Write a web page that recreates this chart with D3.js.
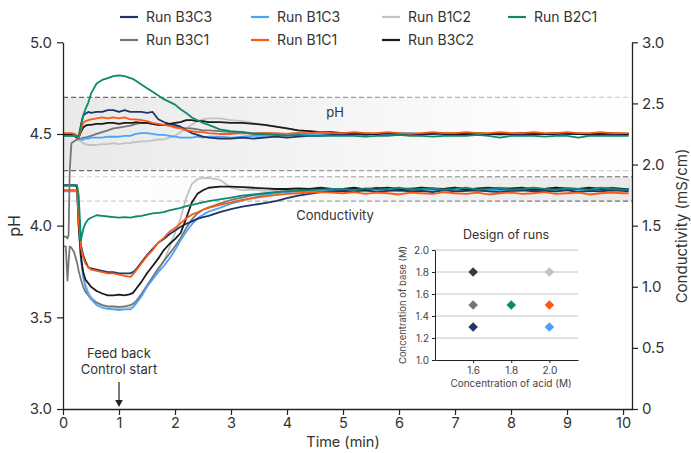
<!DOCTYPE html>
<html><head><meta charset="utf-8">
<script src="https://cdn.jsdelivr.net/npm/d3@7"></script>
<style>body{margin:0;background:#fff;} svg{display:block;font-family:Inter,"Noto Sans",sans-serif;}</style>
</head><body><svg id="c" width="691" height="453"></svg>
<script>
// ---------- DATA ----------
const T = [0,0.05,0.08,0.1,0.12,0.15,0.2,0.25,0.28,0.32,0.36,0.4,0.45,0.5,
  0.6,0.7,0.8,0.9,1.0,1.1,1.2,1.25,1.3,
  1.4,1.5,1.6,1.7,1.8,1.9,2.0,2.1,2.2,2.3,2.4,2.5,2.6,
  2.8,3.0,3.2,3.4,3.6,3.8,4.0,4.2,4.4,4.6,4.8,
  5.0,5.2,5.4,5.6,5.8,6.0,6.2,6.4,6.6,6.8,7.0,7.2,7.4,7.6,7.8,8.0,8.2,8.4,8.6,8.8,9.0,9.2,9.4,9.6,9.8,10.0,10.1];

const seriesNames  = ["Run B3C3","Run B1C3","Run B1C2","Run B2C1","Run B3C1","Run B1C1","Run B3C2"];
const seriesColors = ["#1f3468","#4aa3ff","#c2c2c2","#0b8a6c","#767676","#fb5a14","#1b1b1b"];

// pH (left axis)
const pH_B3C3 = [4.50,4.50,4.50,4.50,4.50,4.50,4.49,4.48,4.48,4.55,4.60,4.61,4.62,4.615,
  4.62,4.62,4.63,4.63,4.62,4.63,4.62,4.62,4.62,
  4.62,4.615,4.62,4.58,4.565,4.555,4.55,4.54,4.52,4.505,4.495,4.485,4.48,
  4.475,4.475,4.48,4.475,4.48,4.485,4.48,4.485,4.49,4.49,4.495,
  4.495,4.50,4.495,4.50,4.505,4.50,4.495,4.50,4.50,4.505,4.50,4.495,4.50,4.50,4.505,4.50,4.495,4.50,4.50,4.505,4.50,4.50,4.495,4.50,4.50,4.50,4.50];
const pH_B1C3 = [4.49,4.49,4.49,4.49,4.49,4.49,4.49,4.48,4.475,4.47,4.47,4.475,4.475,4.48,
  4.48,4.48,4.485,4.485,4.485,4.49,4.49,4.495,4.50,
  4.505,4.505,4.50,4.495,4.495,4.49,4.485,4.48,4.48,4.48,4.485,4.48,4.485,
  4.485,4.48,4.485,4.49,4.49,4.49,4.495,4.495,4.50,4.50,4.495,
  4.50,4.50,4.505,4.50,4.495,4.50,4.505,4.50,4.50,4.495,4.50,4.505,4.50,4.50,4.495,4.50,4.505,4.50,4.50,4.495,4.50,4.505,4.50,4.50,4.495,4.50,4.50];
const pH_B1C2 = [4.50,4.50,4.50,4.50,4.50,4.50,4.49,4.48,4.47,4.46,4.45,4.445,4.44,4.44,
  4.44,4.445,4.445,4.45,4.445,4.45,4.45,4.455,4.455,
  4.46,4.46,4.465,4.47,4.47,4.48,4.49,4.51,4.53,4.55,4.57,4.58,4.585,
  4.585,4.575,4.57,4.56,4.55,4.54,4.53,4.52,4.515,4.51,4.505,
  4.50,4.505,4.50,4.50,4.495,4.50,4.505,4.50,4.50,4.50,4.495,4.50,4.505,4.50,4.50,4.50,4.495,4.50,4.50,4.505,4.50,4.50,4.495,4.50,4.50,4.50,4.50];
const pH_B2C1 = [4.49,4.49,4.49,4.49,4.49,4.49,4.49,4.485,4.49,4.54,4.60,4.635,4.67,4.72,
  4.775,4.795,4.805,4.815,4.82,4.815,4.805,4.80,4.79,
  4.77,4.75,4.73,4.71,4.69,4.675,4.66,4.635,4.615,4.59,4.575,4.56,4.55,
  4.525,4.515,4.51,4.50,4.50,4.495,4.49,4.495,4.49,4.49,4.49,
  4.49,4.49,4.485,4.49,4.49,4.495,4.49,4.49,4.485,4.49,4.49,4.49,4.495,4.49,4.48,4.49,4.49,4.49,4.485,4.49,4.49,4.48,4.49,4.49,4.49,4.49,4.49];
const pH_B3C1 = [3.94,3.94,3.93,3.95,4.30,4.45,4.46,4.47,4.47,4.475,4.48,4.48,4.485,4.49,
  4.50,4.51,4.52,4.53,4.535,4.54,4.545,4.55,4.555,
  4.56,4.56,4.555,4.55,4.55,4.545,4.54,4.535,4.53,4.53,4.525,4.52,4.52,
  4.515,4.51,4.51,4.505,4.505,4.50,4.50,4.505,4.50,4.50,4.50,
  4.50,4.505,4.50,4.50,4.50,4.505,4.50,4.495,4.50,4.50,4.505,4.50,4.50,4.50,4.505,4.50,4.50,4.495,4.50,4.505,4.50,4.50,4.50,4.505,4.50,4.50,4.50];
const pH_B1C1 = [4.505,4.505,4.505,4.505,4.505,4.505,4.50,4.49,4.48,4.52,4.56,4.57,4.575,4.58,
  4.585,4.59,4.585,4.59,4.585,4.59,4.58,4.58,4.58,
  4.575,4.57,4.56,4.555,4.55,4.545,4.535,4.53,4.52,4.515,4.51,4.51,4.505,
  4.50,4.50,4.505,4.50,4.505,4.505,4.50,4.505,4.505,4.51,4.505,
  4.505,4.51,4.505,4.505,4.51,4.505,4.50,4.505,4.51,4.505,4.505,4.51,4.505,4.505,4.51,4.505,4.505,4.51,4.505,4.505,4.51,4.505,4.505,4.51,4.505,4.505,4.505];
const pH_B3C2 = [4.50,4.50,4.50,4.50,4.50,4.50,4.50,4.49,4.48,4.51,4.535,4.545,4.55,4.55,
  4.555,4.555,4.56,4.56,4.555,4.56,4.56,4.56,4.565,
  4.56,4.56,4.555,4.55,4.55,4.555,4.56,4.565,4.575,4.575,4.57,4.57,4.565,
  4.565,4.56,4.56,4.555,4.55,4.54,4.53,4.52,4.515,4.51,4.51,
  4.505,4.505,4.50,4.50,4.505,4.50,4.50,4.50,4.505,4.50,4.50,4.50,4.505,4.50,4.50,4.50,4.505,4.50,4.50,4.50,4.505,4.50,4.50,4.50,4.505,4.50,4.50];

// Conductivity, mS/cm (right axis)
const cond_B3C3 = [1.83,1.83,1.83,1.83,1.83,1.83,1.83,1.82,1.60,1.34,1.26,1.21,1.16,1.15,
  1.14,1.13,1.12,1.12,1.11,1.11,1.11,1.12,1.14,
  1.20,1.26,1.31,1.36,1.39,1.43,1.46,1.49,1.515,1.535,1.555,1.57,1.58,
  1.61,1.635,1.655,1.67,1.685,1.70,1.725,1.745,1.76,1.775,1.78,
  1.785,1.78,1.79,1.775,1.785,1.79,1.78,1.785,1.775,1.79,1.78,1.785,1.79,1.78,1.775,1.785,1.79,1.78,1.785,1.78,1.79,1.775,1.785,1.78,1.79,1.785,1.78];
const cond_B1C3 = [1.78,1.78,1.78,1.78,1.78,1.78,1.78,1.78,1.50,1.22,1.08,1.00,0.94,0.90,
  0.85,0.83,0.82,0.815,0.81,0.815,0.815,0.83,0.86,
  0.92,1.00,1.06,1.12,1.17,1.23,1.30,1.38,1.45,1.51,1.56,1.59,1.615,
  1.645,1.68,1.705,1.73,1.75,1.765,1.775,1.78,1.785,1.78,1.79,
  1.785,1.79,1.78,1.785,1.795,1.78,1.79,1.785,1.78,1.79,1.785,1.795,1.78,1.785,1.79,1.78,1.785,1.795,1.785,1.78,1.79,1.785,1.78,1.79,1.785,1.79,1.785];
const cond_B1C2 = [1.79,1.79,1.79,1.79,1.79,1.79,1.79,1.79,1.52,1.24,1.10,1.02,0.96,0.92,
  0.87,0.85,0.835,0.83,0.825,0.83,0.83,0.84,0.87,
  0.93,1.00,1.07,1.13,1.21,1.32,1.44,1.56,1.73,1.84,1.88,1.89,1.89,
  1.875,1.81,1.79,1.795,1.785,1.79,1.795,1.785,1.79,1.795,1.79,
  1.785,1.795,1.79,1.80,1.785,1.79,1.795,1.785,1.79,1.80,1.79,1.785,1.795,1.79,1.785,1.80,1.79,1.785,1.795,1.79,1.80,1.785,1.79,1.795,1.785,1.79,1.79];
const cond_B2C1 = [1.83,1.83,1.83,1.83,1.83,1.83,1.83,1.83,1.75,1.38,1.47,1.52,1.55,1.565,
  1.585,1.58,1.575,1.57,1.565,1.57,1.565,1.57,1.575,
  1.58,1.59,1.60,1.605,1.61,1.625,1.635,1.645,1.66,1.67,1.68,1.69,1.70,
  1.715,1.73,1.745,1.755,1.765,1.775,1.78,1.785,1.79,1.795,1.80,
  1.80,1.79,1.805,1.795,1.80,1.81,1.795,1.80,1.805,1.795,1.80,1.81,1.795,1.80,1.805,1.795,1.80,1.81,1.80,1.795,1.805,1.80,1.795,1.81,1.80,1.795,1.80];
const cond_B3C1 = [1.33,1.33,1.05,1.20,1.33,1.32,1.28,1.20,1.13,1.06,1.00,0.96,0.93,0.90,
  0.87,0.85,0.84,0.84,0.835,0.84,0.85,0.86,0.88,
  0.94,1.01,1.08,1.15,1.21,1.27,1.33,1.40,1.48,1.55,1.60,1.63,1.65,
  1.68,1.71,1.73,1.75,1.76,1.775,1.785,1.79,1.795,1.80,1.80,
  1.795,1.805,1.80,1.81,1.795,1.80,1.805,1.81,1.795,1.80,1.81,1.80,1.795,1.805,1.81,1.80,1.795,1.805,1.80,1.81,1.795,1.80,1.805,1.80,1.81,1.80,1.80];
const cond_B1C1 = [1.79,1.79,1.79,1.79,1.79,1.79,1.79,1.79,1.55,1.32,1.24,1.19,1.16,1.14,
  1.13,1.12,1.11,1.11,1.10,1.09,1.08,1.10,1.13,
  1.19,1.25,1.30,1.36,1.40,1.45,1.48,1.52,1.56,1.59,1.61,1.63,1.645,
  1.67,1.69,1.71,1.725,1.74,1.75,1.76,1.765,1.77,1.775,1.77,
  1.765,1.775,1.76,1.77,1.765,1.755,1.77,1.765,1.76,1.775,1.765,1.76,1.77,1.755,1.765,1.77,1.76,1.765,1.775,1.76,1.765,1.77,1.755,1.765,1.77,1.765,1.765];
const cond_B3C2 = [1.83,1.83,1.83,1.83,1.83,1.83,1.83,1.83,1.50,1.25,1.12,1.06,1.03,1.00,
  0.965,0.945,0.93,0.93,0.935,0.93,0.94,0.95,0.98,
  1.04,1.11,1.17,1.23,1.30,1.35,1.39,1.44,1.56,1.69,1.76,1.79,1.81,
  1.82,1.82,1.815,1.81,1.805,1.80,1.80,1.805,1.80,1.81,1.80,
  1.80,1.81,1.795,1.805,1.81,1.80,1.795,1.81,1.805,1.80,1.81,1.795,1.805,1.81,1.80,1.805,1.81,1.795,1.80,1.81,1.805,1.80,1.81,1.80,1.805,1.80,1.80];

const pHSeries   = [pH_B3C3, pH_B1C3, pH_B1C2, pH_B2C1, pH_B3C1, pH_B1C1, pH_B3C2];
const condSeries = [cond_B3C3, cond_B1C3, cond_B1C2, cond_B2C1, cond_B3C1, cond_B1C1, cond_B3C2];

const phBand = [4.3, 4.7];
const condBand = [1.7, 1.9];

// Design of runs (inset)
const designAcid = [1.6, 2.0, 2.0, 1.8, 1.6, 2.0, 1.6];
const designBase = [1.3, 1.3, 1.8, 1.5, 1.5, 1.5, 1.8];
const designXTicks = [1.6, 1.8, 2.0];
const designYTicks = [1.0, 1.2, 1.4, 1.6, 1.8, 2.0];

const xTicks = [0,1,2,3,4,5,6,7,8,9,10];
const phTicks = [3.0,3.5,4.0,4.5,5.0];
const condTicks = [0,0.5,1.0,1.5,2.0,2.5,3.0];

// ---------- CHART ----------
const svg = d3.select("#c");
const X0 = 63, X1 = 632, YT = 42.3, YB = 409;
const x  = d3.scaleLinear().domain([0, 10.16]).range([X0, X1]);
const yL = d3.scaleLinear().domain([3, 5]).range([YB, YT]);
const yR = d3.scaleLinear().domain([0, 3]).range([YB, YT]);

const defs = svg.append("defs");
function grad(id, stops){
  const g = defs.append("linearGradient").attr("id", id).attr("gradientUnits","userSpaceOnUse")
    .attr("x1", X0).attr("x2", X1).attr("y1", 0).attr("y2", 0);
  stops.forEach(s => g.append("stop").attr("offset", s[0]).attr("stop-color", s[1]));
}
grad("phFill",   [[0,"#e9e9e9"],[0.45,"#f4f4f4"],[0.8,"#fdfdfd"],[1,"#ffffff"]]);
grad("condFill", [[0,"#ffffff"],[0.3,"#fbfbfb"],[0.7,"#efefef"],[1,"#e8e8e8"]]);
grad("phLine",   [[0,"#666666"],[1,"#d6d6d6"]]);
grad("condLine", [[0,"#dadada"],[1,"#666666"]]);
defs.append("clipPath").attr("id","plotClip").append("rect")
  .attr("x", X0).attr("y", YT).attr("width", X1 - X0).attr("height", YB - YT);

// bands
svg.append("rect").attr("x", X0).attr("width", X1 - X0)
  .attr("y", yL(phBand[1])).attr("height", yL(phBand[0]) - yL(phBand[1]))
  .attr("fill", "url(#phFill)");
svg.append("rect").attr("x", X0).attr("width", X1 - X0)
  .attr("y", yR(condBand[1])).attr("height", yR(condBand[0]) - yR(condBand[1]))
  .attr("fill", "url(#condFill)");
phBand.forEach(v => svg.append("line").attr("x1", X0).attr("x2", X1)
  .attr("y1", yL(v)).attr("y2", yL(v)).attr("stroke","url(#phLine)")
  .attr("stroke-width",1.2).attr("stroke-dasharray","5,3"));
condBand.forEach(v => svg.append("line").attr("x1", X0).attr("x2", X1)
  .attr("y1", yR(v)).attr("y2", yR(v)).attr("stroke","url(#condLine)")
  .attr("stroke-width",1.2).attr("stroke-dasharray","5,3"));

// band labels
svg.append("text").attr("x", 335).attr("y", 117).attr("text-anchor","middle")
  .attr("font-size", 13).attr("fill","#333").text("pH");
svg.append("text").attr("x", 335).attr("y", 220).attr("text-anchor","middle")
  .attr("font-size", 13).attr("fill","#333").text("Conductivity");

// lines
const plot = svg.append("g").attr("clip-path","url(#plotClip)");
const drawOrder = [2, 4, 1, 0, 6, 5, 3];
const lineL = d3.line().x(d => x(d[0])).y(d => yL(d[1]));
const lineR = d3.line().x(d => x(d[0])).y(d => yR(d[1]));
drawOrder.forEach(i => {
  const n = Math.min(T.length, condSeries[i].length);
  plot.append("path").datum(T.slice(0, n).map((t, j) => [t, condSeries[i][j]]))
    .attr("d", lineR).attr("fill","none").attr("stroke", seriesColors[i])
    .attr("stroke-width", 1.8).attr("stroke-linejoin","round");
});
drawOrder.forEach(i => {
  const n = Math.min(T.length, pHSeries[i].length);
  plot.append("path").datum(T.slice(0, n).map((t, j) => [t, pHSeries[i][j]]))
    .attr("d", lineL).attr("fill","none").attr("stroke", seriesColors[i])
    .attr("stroke-width", 1.8).attr("stroke-linejoin","round");
});

// axes
function styleAxis(g, fs){
  g.select(".domain").attr("stroke","#222").attr("stroke-width",1.3);
  g.selectAll(".tick line").attr("stroke","#222").attr("stroke-width",1.2);
  g.selectAll(".tick text").attr("fill","#333").attr("font-size", fs).attr("font-family","Inter,'Noto Sans',sans-serif");
}
const gx = svg.append("g").attr("transform",`translate(0,${YB})`)
  .call(d3.axisBottom(x).tickValues(xTicks).tickFormat(d3.format("d")).tickSize(6).tickSizeOuter(0).tickPadding(3));
styleAxis(gx, 14.5);
const gl = svg.append("g").attr("transform",`translate(${X0},0)`)
  .call(d3.axisLeft(yL).tickValues(phTicks).tickFormat(d3.format(".1f")).tickSize(6).tickSizeOuter(0).tickPadding(5));
styleAxis(gl, 15);
const gr = svg.append("g").attr("transform",`translate(${X1},0)`)
  .call(d3.axisRight(yR).tickValues(condTicks).tickFormat(d => d === 0 ? "0" : d3.format(".1f")(d)).tickSize(6).tickSizeOuter(0).tickPadding(4));
styleAxis(gr, 15);

svg.append("text").attr("x", 343).attr("y", 447).attr("text-anchor","middle")
  .attr("font-size", 14.5).attr("fill","#333").text("Time (min)");
svg.append("text").attr("transform","translate(20,226) rotate(-90)").attr("text-anchor","middle")
  .attr("font-size", 16).attr("fill","#333").text("pH");
svg.append("text").attr("transform","translate(687,226) rotate(-90)").attr("text-anchor","middle")
  .attr("font-size", 15).attr("fill","#333").text("Conductivity (mS/cm)");

// legend
const legPos = [[120,17],[251,17],[382,17],[508,17],[120,40],[251,40],[382,40]];
seriesNames.forEach((nm, i) => {
  const [lx, ly] = legPos[i];
  svg.append("line").attr("x1", lx).attr("x2", lx + 18).attr("y1", ly).attr("y2", ly)
    .attr("stroke", seriesColors[i]).attr("stroke-width", 2.2);
  svg.append("text").attr("x", lx + 26).attr("y", ly + 5).attr("font-size", 14)
    .attr("fill","#333").text(nm);
});

// feedback annotation
svg.append("text").attr("x", x(1)).attr("y", 358).attr("text-anchor","middle")
  .attr("font-size", 13).attr("fill","#333").text("Feed back");
svg.append("text").attr("x", x(1)).attr("y", 374).attr("text-anchor","middle")
  .attr("font-size", 13).attr("fill","#333").text("Control start");
svg.append("line").attr("x1", x(1)).attr("x2", x(1)).attr("y1", 382).attr("y2", 401)
  .attr("stroke","#222").attr("stroke-width",1.2);
svg.append("path").attr("d", `M${x(1)-3.8},400 L${x(1)+3.8},400 L${x(1)},407 Z`).attr("fill","#222");

// ---------- INSET ----------
const ix = d3.scaleLinear().domain([1.4, 2.15]).range([435, 578]);
const iy = d3.scaleLinear().domain([1.0, 2.0]).range([360, 250]);
const inset = svg.append("g");
designYTicks.slice(1).forEach(v => inset.append("line").attr("x1", 435).attr("x2", 578)
  .attr("y1", iy(v)).attr("y2", iy(v)).attr("stroke","#c4c4c4").attr("stroke-width",1));
const iyAxis = inset.append("g").attr("transform","translate(435,0)")
  .call(d3.axisLeft(iy).tickValues(designYTicks).tickFormat(d3.format(".1f")).tickSize(3).tickSizeOuter(0).tickPadding(3));
const ixAxis = inset.append("g").attr("transform","translate(0,360)")
  .call(d3.axisBottom(ix).tickValues(designXTicks).tickFormat(d3.format(".1f")).tickSize(3).tickSizeOuter(0).tickPadding(4));
[iyAxis, ixAxis].forEach(g => {
  g.select(".domain").attr("stroke","#222").attr("stroke-width",1);
  g.selectAll(".tick line").attr("stroke","#222");
  g.selectAll(".tick text").attr("fill","#444").attr("font-size",10).attr("font-family","Inter,'Noto Sans',sans-serif");
});
inset.append("text").attr("x", 506).attr("y", 239).attr("text-anchor","middle")
  .attr("font-size", 12.5).attr("fill","#333").text("Design of runs");
inset.append("text").attr("x", 511).attr("y", 387).attr("text-anchor","middle")
  .attr("font-size", 10).attr("fill","#444").text("Concentration of acid (M)");
inset.append("text").attr("transform","translate(406,305) rotate(-90)").attr("text-anchor","middle")
  .attr("font-size", 9.5).attr("fill","#444").text("Concentration of base (M)");
const sq = d3.symbol().type(d3.symbolSquare).size(46);
designAcid.forEach((a, i) => {
  inset.append("path").attr("d", sq())
    .attr("transform", `translate(${ix(a)},${iy(designBase[i])}) rotate(45)`)
    .attr("fill", i === 6 ? "#3a3a3a" : seriesColors[i]);
});
</script></body></html>
